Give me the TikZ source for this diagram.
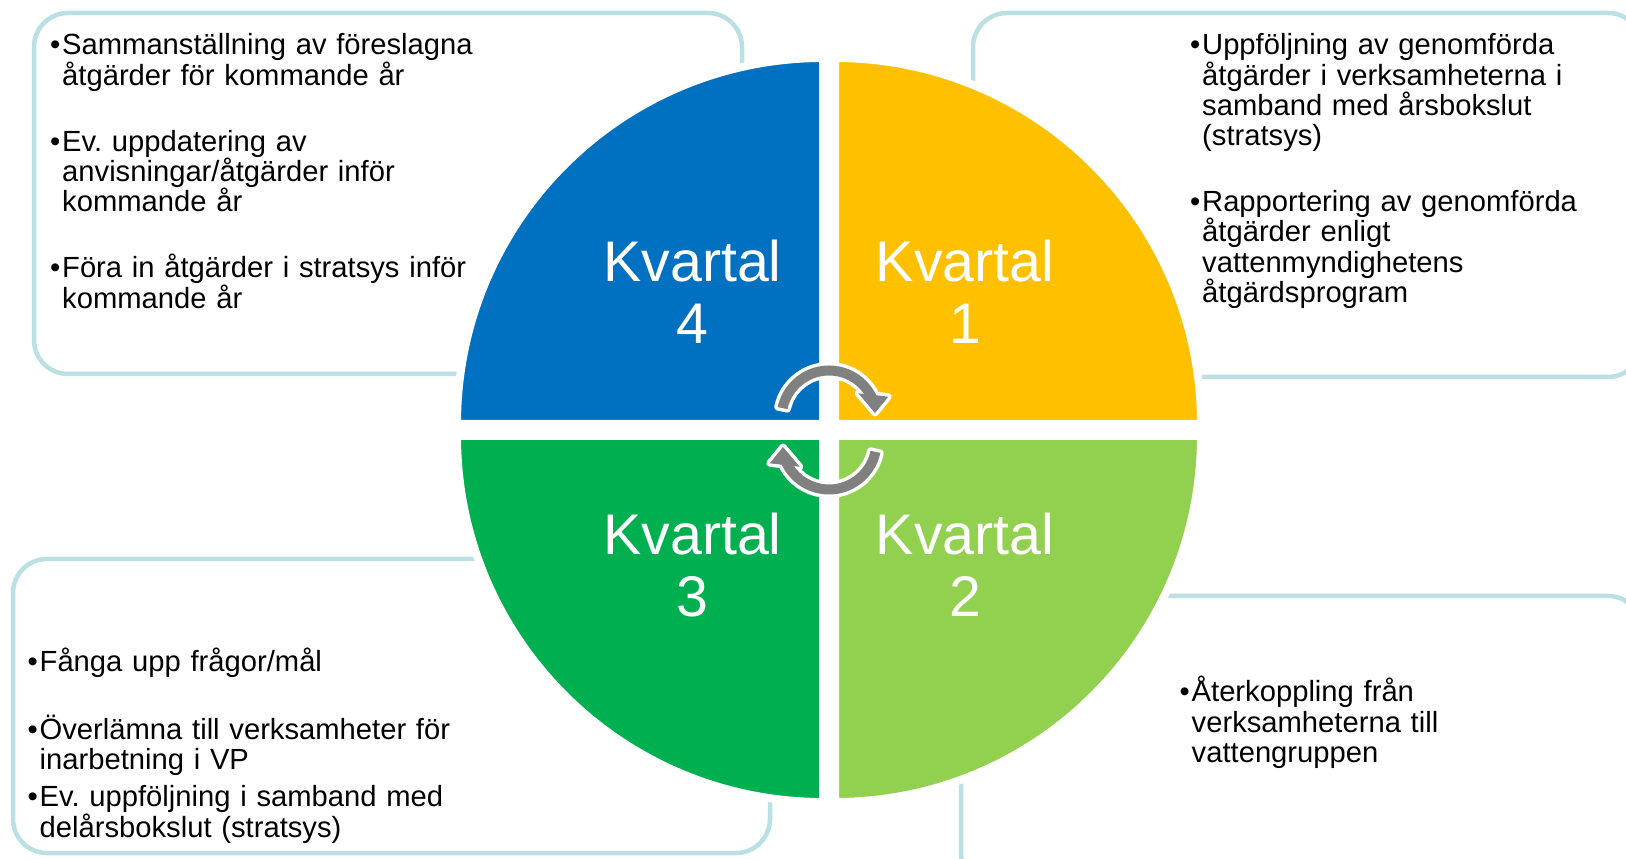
\documentclass[tikz,border=0pt]{standalone}
\usepackage{fontspec}
\setmainfont{Liberation Sans}
\usetikzlibrary{calc}
\definecolor{kvblue}{HTML}{0070C0}
\definecolor{kvyellow}{HTML}{FFC000}
\definecolor{kvgreen}{HTML}{00B050}
\definecolor{kvlime}{HTML}{92D050}
\definecolor{boxrim}{RGB}{187,224,227}
\definecolor{turngray}{RGB}{128,128,128}
\frenchspacing
\tikzset{
	notebox/.style={draw=boxrim, line width=4.5bp, fill=white, rounded corners=34bp},
	quarter/.style={draw=white, line width=8bp},
	turn/.style={fill=turngray, preaction={draw=white, line width=7bp, line join=round}},
	notes/.style={anchor=base west, inner sep=0pt, text width=560bp, align=left, font=\fontsize{29.3}{30.3}\selectfont},
	kvartal/.style={anchor=base, inner sep=0pt, text width=240bp, align=center, text=white, font=\fontsize{57.5}{62}\selectfont}
}
\def\bul{\makebox[12bp][l]{•}}
\def\ind{\hspace*{12bp}}
\def\quadrant[#1](#2)(#3:#4){\draw[quarter, fill=#1] (#2) -- ++(#3:366) arc (#3:#4:366) -- cycle;}
\def\turnarrow(#1)[#2]{\fill[turn, shift={(#1)}, rotate=#2] (168:52.5) arc (168:25.6:52.5) -- (59.3,21.3) -- (46,5) -- (29.3,24.7) -- (34.5:42.5) arc (34.5:168:42.5) -- cycle;}

\begin{document}
\begin{tikzpicture}[x=1bp, y=1bp]
	%%%%% START %%%%%
	\clip (0,0) rectangle (1626,858);
	\fill[white] (0,0) rectangle (1626,858);
	
	% note boxes, partly hidden by the wheel
	\draw[notebox] (34,484) rectangle (742,845);
	\draw[notebox] (973,481) rectangle (1642,845);
	\draw[notebox] (13,5) rectangle (770,299);
	\draw[notebox] (961,-30) rectangle (1642,262);
	
	% wheel
	\quadrant[kvblue](823,434)(90:180);
	\quadrant[kvyellow](835,434)(0:90);
	\quadrant[kvgreen](823,422)(180:270);
	\quadrant[kvlime](835,422)(270:360);
	
	\turnarrow(829,440)[0];
	\turnarrow(829,416)[180];
	
	\node[kvartal] (k4) at (692.5,576) {Kvartal\\4};
	\node[kvartal] (k1) at (965,576) {Kvartal\\1};
	\node[kvartal] (k3) at (692.5,303) {Kvartal\\3};
	\node[kvartal] (k2) at (965,303) {Kvartal\\2};
	
	% texts
	\node[notes] (t4) at (50,803) {\bul Sammanställning av föreslagna\\\ind åtgärder för kommande år\\[36bp]\bul Ev. uppdatering av\\\ind anvisningar/åtgärder inför\\\ind kommande år\\[36bp]\bul Föra in åtgärder i stratsys inför\\\ind kommande år};
	\node[notes] (t1) at (1190,803) {\bul Uppföljning av genomförda\\\ind åtgärder i verksamheterna i\\\ind samband med årsbokslut\\\ind (stratsys)\\[36bp]\bul Rapportering av genomförda\\\ind åtgärder enligt\\\ind vattenmyndighetens\\\ind åtgärdsprogram};
	\node[notes] (t3) at (27.5,186) {\bul Fånga upp frågor/mål\\[36bp]\bul Överlämna till verksamheter för\\\ind inarbetning i VP\\[7bp]\bul Ev. uppföljning i samband med\\\ind delårsbokslut (stratsys)};
	\node[notes] (t2) at (1179.5,156) {\bul Återkoppling från\\\ind verksamheterna till\\\ind vattengruppen};
	
	%%%%% END %%%%%
\end{tikzpicture}
\end{document}
